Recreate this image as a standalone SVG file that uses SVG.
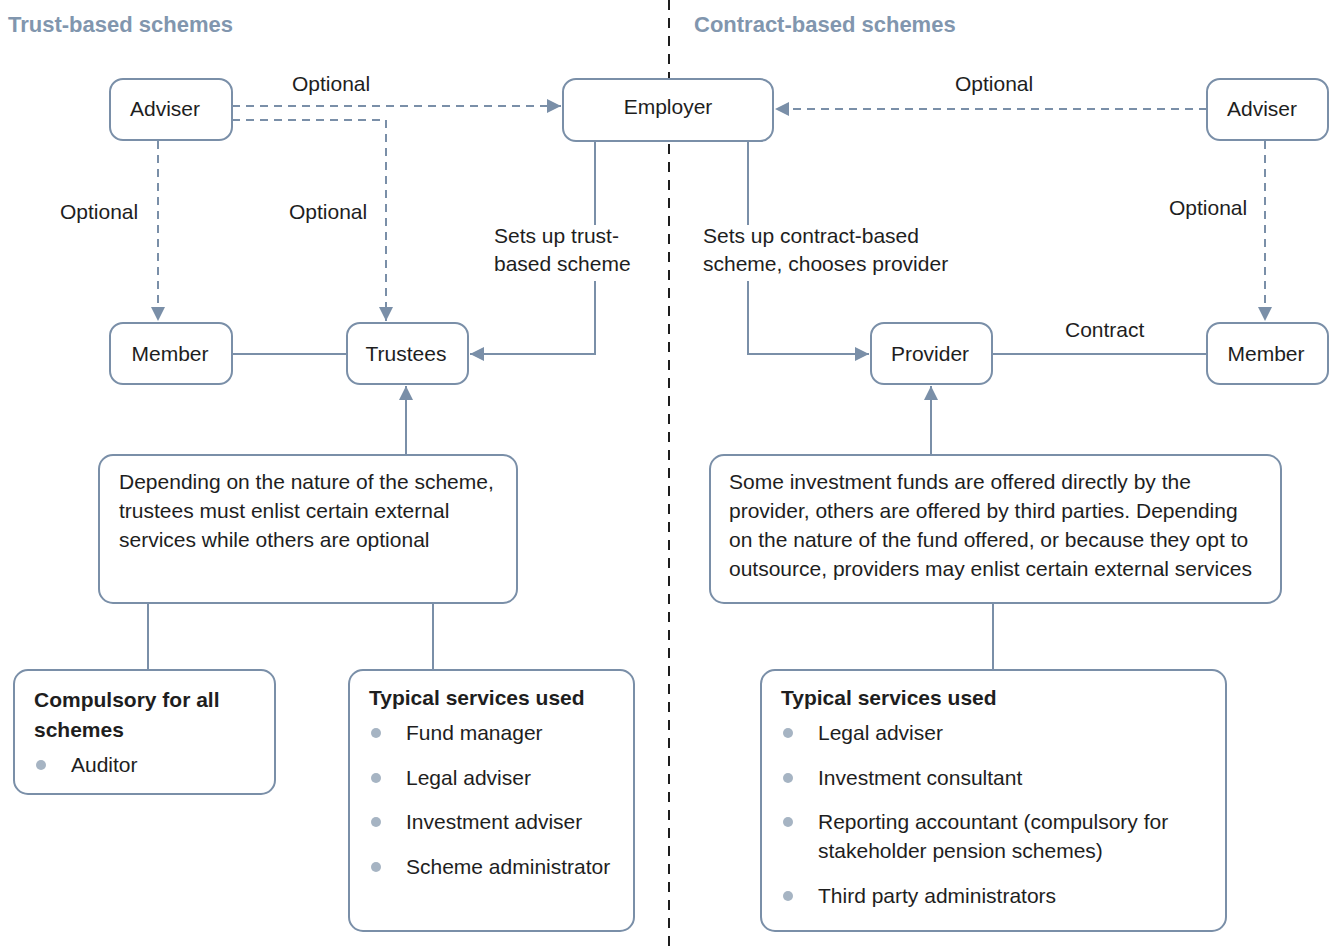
<svg xmlns="http://www.w3.org/2000/svg" width="1336" height="949" viewBox="0 0 1336 949">
<defs>
<style>
.box{fill:#fff;stroke:#7a8fa8;stroke-width:2}
.t{font-family:"Liberation Sans",Arial,sans-serif;font-size:21px;fill:#1e1e1e}
.c{text-anchor:middle}
.b{font-weight:bold}
.h{font-family:"Liberation Sans",Arial,sans-serif;font-size:22px;font-weight:bold;fill:#8196ae}
.ln{fill:none;stroke:#7a8fa8;stroke-width:2}
.dl{fill:none;stroke:#7a8fa8;stroke-width:2;stroke-dasharray:8 6}
.bul{fill:#a6b4c3}
</style>
<marker id="ah" markerUnits="userSpaceOnUse" markerWidth="14" markerHeight="14" viewBox="0 0 14 14" refX="14" refY="7" orient="auto">
<path d="M0,0 L14,7 L0,14 Z" fill="#7a8fa8"/>
</marker>
</defs>
<rect width="1336" height="949" fill="#fff"/>

<g id="headings">
<text class="h" x="8" y="32">Trust-based schemes</text>
<text class="h" x="694" y="32">Contract-based schemes</text>
</g>

<g id="divider">
<line x1="669" y1="0" x2="669" y2="949" stroke="#1e1e1e" stroke-width="2" stroke-dasharray="10 8"/>
</g>

<g id="connectors">
<path class="dl" d="M232,106 H561" marker-end="url(#ah)"/>
<path class="dl" d="M232,120 H386 V321" marker-end="url(#ah)"/>
<path class="dl" d="M158,141 V321" marker-end="url(#ah)"/>
<path class="ln" d="M595,141 V225"/>
<path class="ln" d="M595,281 V354 H470" marker-end="url(#ah)"/>
<path class="ln" d="M748,141 V225"/>
<path class="ln" d="M748,281 V354 H869" marker-end="url(#ah)"/>
<path class="dl" d="M1207,109 H775" marker-end="url(#ah)"/>
<path class="dl" d="M1265,141 V321" marker-end="url(#ah)"/>
<path class="ln" d="M232,354 H347"/>
<path class="ln" d="M992,354 H1207"/>
<path class="ln" d="M406,455 V386" marker-end="url(#ah)"/>
<path class="ln" d="M931,455 V386" marker-end="url(#ah)"/>
<path class="ln" d="M148,603 V670"/>
<path class="ln" d="M433,603 V670"/>
<path class="ln" d="M993,603 V670"/>
<text class="t" x="292" y="91">Optional</text>
<text class="t" x="60" y="219">Optional</text>
<text class="t" x="289" y="219">Optional</text>
<text class="t" x="955" y="91">Optional</text>
<text class="t" x="1169" y="215">Optional</text>
<text class="t" x="494" y="243">Sets up trust-</text>
<text class="t" x="494" y="271">based scheme</text>
<text class="t" x="703" y="243">Sets up contract-based</text>
<text class="t" x="703" y="271">scheme, chooses provider</text>
<text class="t" x="1065" y="337">Contract</text>
</g>

<g id="adviser-left">
<rect class="box" x="110" y="79" width="122" height="61" rx="13"/>
<text class="t c" x="165" y="116">Adviser</text>
</g>
<g id="employer">
<rect class="box" x="563" y="79" width="210" height="62" rx="13"/>
<text class="t c" x="668" y="114">Employer</text>
</g>
<g id="adviser-right">
<rect class="box" x="1207" y="79" width="121" height="61" rx="13"/>
<text class="t c" x="1262" y="116">Adviser</text>
</g>
<g id="member-left">
<rect class="box" x="110" y="323" width="122" height="61" rx="13"/>
<text class="t c" x="170" y="361">Member</text>
</g>
<g id="trustees">
<rect class="box" x="347" y="323" width="121" height="61" rx="13"/>
<text class="t c" x="406" y="361">Trustees</text>
</g>
<g id="provider">
<rect class="box" x="871" y="323" width="121" height="61" rx="13"/>
<text class="t c" x="930" y="361">Provider</text>
</g>
<g id="member-right">
<rect class="box" x="1207" y="323" width="121" height="61" rx="13"/>
<text class="t c" x="1266" y="361">Member</text>
</g>

<g id="trust-note">
<rect class="box" x="99" y="455" width="418" height="148" rx="14"/>
<text class="t" x="119" y="489">Depending on the nature of the scheme,</text>
<text class="t" x="119" y="518">trustees must enlist certain external</text>
<text class="t" x="119" y="547">services while others are optional</text>
</g>
<g id="contract-note">
<rect class="box" x="710" y="455" width="571" height="148" rx="14"/>
<text class="t" x="729" y="489">Some investment funds are offered directly by the</text>
<text class="t" x="729" y="518">provider, others are offered by third parties. Depending</text>
<text class="t" x="729" y="547">on the nature of the fund offered, or because they opt to</text>
<text class="t" x="729" y="576">outsource, providers may enlist certain external services</text>
</g>

<g id="compulsory">
<rect class="box" x="14" y="670" width="261" height="124" rx="14"/>
<text class="t b" x="34" y="707">Compulsory for all</text>
<text class="t b" x="34" y="737">schemes</text>
<circle class="bul" cx="41" cy="765" r="5"/>
<text class="t" x="71" y="772">Auditor</text>
</g>

<g id="trust-services">
<rect class="box" x="349" y="670" width="285" height="261" rx="14"/>
<text class="t b" x="369" y="705">Typical services used</text>
<circle class="bul" cx="376" cy="733" r="5"/>
<text class="t" x="406" y="740">Fund manager</text>
<circle class="bul" cx="376" cy="778" r="5"/>
<text class="t" x="406" y="785">Legal adviser</text>
<circle class="bul" cx="376" cy="822" r="5"/>
<text class="t" x="406" y="829">Investment adviser</text>
<circle class="bul" cx="376" cy="867" r="5"/>
<text class="t" x="406" y="874">Scheme administrator</text>
</g>

<g id="contract-services">
<rect class="box" x="761" y="670" width="465" height="261" rx="14"/>
<text class="t b" x="781" y="705">Typical services used</text>
<circle class="bul" cx="788" cy="733" r="5"/>
<text class="t" x="818" y="740">Legal adviser</text>
<circle class="bul" cx="788" cy="778" r="5"/>
<text class="t" x="818" y="785">Investment consultant</text>
<circle class="bul" cx="788" cy="822" r="5"/>
<text class="t" x="818" y="829">Reporting accountant (compulsory for</text>
<text class="t" x="818" y="858">stakeholder pension schemes)</text>
<circle class="bul" cx="788" cy="896" r="5"/>
<text class="t" x="818" y="903">Third party administrators</text>
</g>
</svg>
